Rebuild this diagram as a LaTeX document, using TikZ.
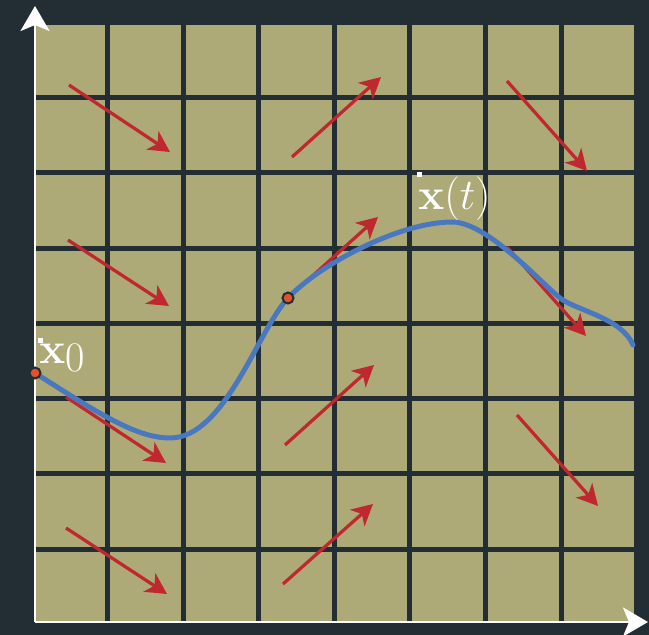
\documentclass[tikz,border=0pt]{standalone}
\usetikzlibrary{arrows.meta}
\definecolor{bgdark}{HTML}{232D34}
\definecolor{olive}{HTML}{AEAA78}
\definecolor{fieldred}{HTML}{C0282F}
\definecolor{curveblue}{HTML}{4A78C0}
\definecolor{dotorange}{HTML}{E0522A}
\tikzset{
  gridline/.style={draw=bgdark, line width=0.1cm},
  axisline/.style={draw=white, line width=0.055cm, -{Stealth[length=0.5cm,width=0.58cm,inset=0.12cm]}},
  fieldarrow/.style={draw=fieldred, line width=0.065cm, -{Stealth[length=0.42cm,width=0.44cm,inset=0.12cm]}},
  trajectory/.style={draw=curveblue, line width=0.1cm, line cap=round},
  statedot/.style={circle, fill=dotorange, draw=bgdark, line width=0.04cm, inner sep=0pt, minimum size=0.22cm},
  labeltext/.style={text=white, inner sep=0pt},
  marksq/.style={fill=white, draw=none}
}
\begin{document}
\begin{tikzpicture}[x=0.02cm, y=-0.02cm]
  \useasboundingbox (0,0) rectangle (649,635);
  \fill[bgdark] (0,0) rectangle (649,635);
  % olive field
  \fill[olive] (32,22.25) rectangle (636.6,624.25);
  \foreach \i in {0,...,8} {
    \draw[gridline] ({32+75.575*\i},22.25) -- ({32+75.575*\i},624.25);
    \draw[gridline] (32,{22.25+75.25*\i}) -- (636.6,{22.25+75.25*\i});
  }
  % axes
  \coordinate (origin) at (35,622);
  \coordinate (ytip) at (35,6);
  \coordinate (xtip) at (648,622);
  \draw[axisline] (origin) -- (ytip);
  \draw[axisline] (origin) -- (xtip);
  % vector field arrows
  \foreach \n/\sx/\sy/\ex/\ey in {
     a/69/85/170/152, b/292/157/381/77, c/507/81/587/171,
     d/68/240/169/306, e/288/298/378/217, f/507/247/586/336,
     g/66/397/166/463, h/285/445/374/365, i/517/415/598/506,
     j/66/528/167/594, k/283/584/373/504} {
    \coordinate (s\n) at (\sx,\sy);
    \coordinate (t\n) at (\ex,\ey);
    \draw[fieldarrow] (s\n) -- (t\n);
  }
  % trajectory
  \coordinate (p0) at (35,373);
  \coordinate (p1) at (170,438);
  \coordinate (p2) at (288,298);
  \coordinate (p3) at (452,222);
  \coordinate (p4) at (560,298);
  \coordinate (p5) at (633,345);
  \draw[trajectory] (p0) .. controls (95,411) and (135,438) .. (p1)
    .. controls (225,438) and (258,330) .. (p2)
    .. controls (320,264) and (400,222) .. (p3)
    .. controls (487,222) and (540,282) .. (p4)
    .. controls (575,310) and (622,318) .. (p5);
  \node[statedot] (x0dot) at (p0) {};
  \node[statedot] (xtdot) at (p2) {};
  % labels
  \fill[marksq] (38,338) rectangle (43,343);
  \node[labeltext, anchor=base west] (x0label) at (39,363)
    {\fontsize{29.5}{30}\selectfont$\mathbf{x}$\raisebox{-5pt}{\fontsize{24}{24}\selectfont 0}};
  \fill[marksq] (417,172) rectangle (422,177);
  \node[labeltext, anchor=base west] (xtlabel) at (418,209)
    {\fontsize{27.8}{28}\selectfont$\mathbf{x}(t)$};
\end{tikzpicture}
\end{document}
